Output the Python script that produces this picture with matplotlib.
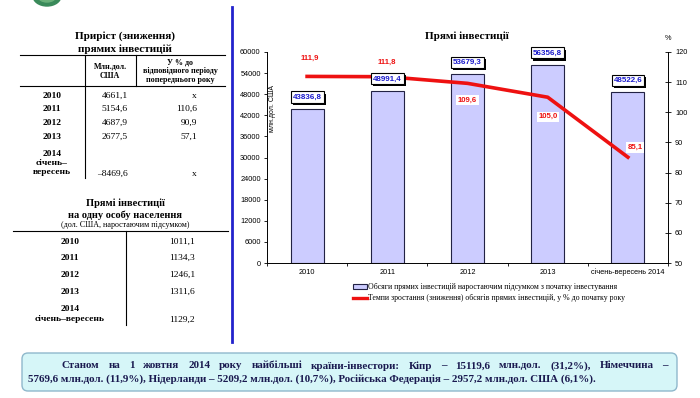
import matplotlib
matplotlib.use('Agg')
import matplotlib.pyplot as plt
import matplotlib.patheffects as pe
from matplotlib.patches import FancyBboxPatch, Ellipse, Patch
from matplotlib.lines import Line2D

# chart data
categories = ['2010', '2011', '2012', '2013', 'січень-вересень 2014']
fdi_total = [43836.8, 48991.4, 53679.3, 56356.8, 48522.6]
growth_pct = [111.9, 111.8, 109.6, 105.0, 85.1]

# table data
t_years = ['2010', '2011', '2012', '2013', '2014\nсічень–\nвересень']
t_increase = [4661.1, 5154.6, 4687.9, 2677.5, -8469.6]
t_increase_pct = [None, 110.6, 90.9, 57.1, None]
pc_years = ['2010', '2011', '2012', '2013', '2014\nсічень–вересень']
per_capita = [1011.1, 1134.3, 1246.1, 1311.6, 1129.2]

SERIF = 'Liberation Serif'
SANS = 'Liberation Sans'
W, H = 700, 398


def fmt(v):
    s = '%.1f' % v
    s = s.replace('.', ',')
    if s.startswith('-'):
        s = '–' + s[1:]
    return s


fig = plt.figure(figsize=(7, 3.98), dpi=100)
bg = fig.add_axes([0, 0, 1, 1])
bg.set_xlim(0, W)
bg.set_ylim(H, 0)
bg.axis('off')

# logo bit at the top
bg.add_patch(Ellipse((47, -4), 28, 20, color='#3a8a5a'))
bg.add_patch(Ellipse((47, -4), 18, 12, color='#6ab07a'))

# blue divider
bg.plot([232, 232], [7, 342], color='#2222cc', lw=2)

# ---- table 1
bg.text(125, 36, 'Приріст (зниження)', ha='center', va='center', family=SERIF,
        weight='bold', size=8)
bg.text(125, 49, 'прямих інвестицій', ha='center', va='center', family=SERIF,
        weight='bold', size=8)
bg.plot([20, 225], [55, 55], color='k', lw=0.8)
bg.plot([20, 225], [86, 86], color='k', lw=0.8)
bg.plot([85, 85], [55, 178], color='k', lw=0.8)
bg.plot([136, 136], [55, 86], color='k', lw=0.8)
bg.text(110, 71, 'Млн.дол.\nСША', ha='center', va='center', family=SERIF,
        weight='bold', size=5.8, linespacing=1.3)
bg.text(180, 71, 'У % до\nвідповідного періоду\nпопереднього року', ha='center',
        va='center', family=SERIF, weight='bold', size=5.8, linespacing=1.15)
row_y = [96, 109, 123, 137]
for i in range(4):
    bg.text(52, row_y[i], t_years[i], ha='center', va='center', family=SERIF,
            weight='bold', size=6.8)
    bg.text(128, row_y[i], fmt(t_increase[i]), ha='right', va='center',
            family=SERIF, size=6.8)
    p = t_increase_pct[i]
    bg.text(197, row_y[i], 'x' if p is None else fmt(p), ha='right',
            va='center', family=SERIF, size=6.8)
bg.text(52, 163, t_years[4], ha='center', va='center', family=SERIF,
        weight='bold', size=6.8, linespacing=1.2)
bg.text(128, 174, fmt(t_increase[4]), ha='right', va='center', family=SERIF,
        size=6.8)
bg.text(197, 174, 'x', ha='right', va='center', family=SERIF, size=6.8)

# ---- table 2
bg.text(125, 203, 'Прямі інвестиції', ha='center', va='center', family=SERIF,
        weight='bold', size=7.5)
bg.text(125, 215, 'на одну особу населення', ha='center', va='center',
        family=SERIF, weight='bold', size=7.5)
bg.text(125, 225, '(дол. США, наростаючим підсумком)', ha='center',
        va='center', family=SERIF, size=5.8)
bg.plot([13, 228], [231, 231], color='k', lw=0.8)
bg.plot([126, 126], [231, 325], color='k', lw=0.8)
pc_y = [242, 258, 275, 292]
for i in range(4):
    bg.text(70, pc_y[i], pc_years[i], ha='center', va='center', family=SERIF,
            weight='bold', size=6.8)
    bg.text(195, pc_y[i], fmt(per_capita[i]), ha='right', va='center',
            family=SERIF, size=6.8)
bg.text(70, 314, pc_years[4], ha='center', va='center', family=SERIF,
        weight='bold', size=6.8, linespacing=1.25)
bg.text(195, 320, fmt(per_capita[4]), ha='right', va='center', family=SERIF,
        size=6.8)

# ---- chart
ax = fig.add_axes([267 / W, 1 - 263 / H, (668 - 267) / W, (263 - 52) / H])
ax.patch.set_alpha(0)
x = list(range(len(categories)))
ax.bar(x, fdi_total, width=0.41, color='#ccccff', edgecolor='#222244', lw=0.8,
       zorder=2)
ax.set_xlim(-0.5, len(categories) - 0.5)
ax.set_ylim(0, 60000)
ax.set_yticks(range(0, 60001, 6000))
ax.set_xticks(x)
ax.set_xticklabels(categories, family=SANS, size=5.3)
ax.set_xticks([i + 0.5 for i in range(-1, len(categories))], minor=True)
ax.tick_params(axis='x', which='major', length=0, pad=4)
ax.tick_params(axis='x', which='minor', length=2.5, width=0.6)
ax.tick_params(axis='y', length=2.5, width=0.6, labelsize=5.3, pad=2)
for lab in ax.get_yticklabels():
    lab.set_family(SANS)
ax.spines['top'].set_visible(False)
ax.spines['right'].set_visible(False)
for s in ['left', 'bottom']:
    ax.spines[s].set_linewidth(0.7)
ax.text(0.013, 0.73, 'млн.дол. США', transform=ax.transAxes, rotation=90,
        ha='center', va='center', family=SANS, size=5)

ax2 = ax.twinx()
ax2.plot(x, growth_pct, color='#ee1111', lw=2.6, zorder=3)
ax2.set_ylim(50, 120)
ax2.set_yticks(range(50, 121, 10))
ax2.tick_params(axis='y', direction='inout', length=4, width=0.6,
                labelsize=5.3, pad=3)
for lab in ax2.get_yticklabels():
    lab.set_family(SANS)
for s in ['top', 'left', 'bottom']:
    ax2.spines[s].set_visible(False)
ax2.spines['right'].set_linewidth(0.7)

# bar value labels drawn on the top axes so they sit above the line
for i, v in enumerate(fdi_total):
    t = ax2.annotate(fmt(v), (i, v), xycoords=ax.transData, xytext=(0, 6),
                     textcoords='offset points', ha='center', va='bottom',
                     family=SANS, weight='bold', size=5.8, color='#1a1acc',
                     zorder=5,
                     bbox=dict(boxstyle='square,pad=0.25', fc='white',
                               ec='black', lw=0.8))
    t.get_bbox_patch().set_path_effects([
        pe.SimplePatchShadow(offset=(1.5, -1.5), shadow_rgbFace='black',
                             alpha=1), pe.Normal()])

line_offsets = [(2, 13), (0, 10), (0, -12), (0, -14), (5, 7)]
for i, v in enumerate(growth_pct):
    ax2.annotate(fmt(v), (i, v), xytext=line_offsets[i],
                 textcoords='offset points', ha='center', va='center',
                 family=SANS, weight='bold', size=5.6, color='#ee1111',
                 zorder=6, bbox=dict(boxstyle='square,pad=0.2', fc='white',
                                     ec='none'))

fig.text(467 / W, 1 - 36 / H, 'Прямі інвестиції', ha='center', va='center',
         family=SERIF, weight='bold', size=8)
fig.text(668 / W, 1 - 38 / H, '%', ha='center', va='center', family=SANS,
         size=5.3)

handles = [Patch(fc='#ccccff', ec='#222244', lw=0.8),
           Line2D([], [], color='#ee1111', lw=2.4)]
labels = ['Обсяги прямих інвестицій наростаючим підсумком з початку інвестування',
          'Темпи зростання (зниження) обсягів прямих інвестицій, у % до початку року']
fig.legend(handles, labels, loc='upper left',
           bbox_to_anchor=(353 / W, 1 - 283 / H), frameon=False,
           prop={'family': SERIF, 'size': 5.6}, handlelength=1.8,
           handleheight=0.6, handletextpad=0.1, labelspacing=0.45,
           borderaxespad=0, borderpad=0)

# ---- bottom note box
bg.add_patch(FancyBboxPatch((22, 353), 655, 38,
                            boxstyle='round,pad=0,rounding_size=6',
                            fc='#d6f6f8', ec='#8fb8cc', lw=1))
line1 = ('Станом на 1 жовтня 2014 року найбільші країни-інвестори: Кіпр – '
         '15119,6 млн.дол. (31,2%), Німеччина –').split(' ')
line2 = ('5769,6 млн.дол. (11,9%), Нідерланди – 5209,2 млн.дол. (10,7%), '
         'Російська Федерація – 2957,2 млн.дол. США (6,1%).')
note_color = '#1a1a50'
words = [bg.text(0, 366, w, ha='left', va='center', family=SERIF,
                 weight='bold', size=7.9, color=note_color) for w in line1]
bg.text(28, 379, line2, ha='left', va='center', family=SERIF, weight='bold',
        size=7.9, color=note_color)

# justify first line between x=62 and x=668
r = fig.canvas.get_renderer()
inv = bg.transData.inverted()
widths = []
for t in words:
    bb = t.get_window_extent(r)
    x0 = inv.transform((bb.x0, bb.y0))[0]
    x1 = inv.transform((bb.x1, bb.y0))[0]
    widths.append(x1 - x0)
gap = (668 - 62 - sum(widths)) / (len(words) - 1)
pos = 62
for t, wd in zip(words, widths):
    t.set_x(pos)
    pos += wd + gap

fig.savefig('out.png', dpi=100)
